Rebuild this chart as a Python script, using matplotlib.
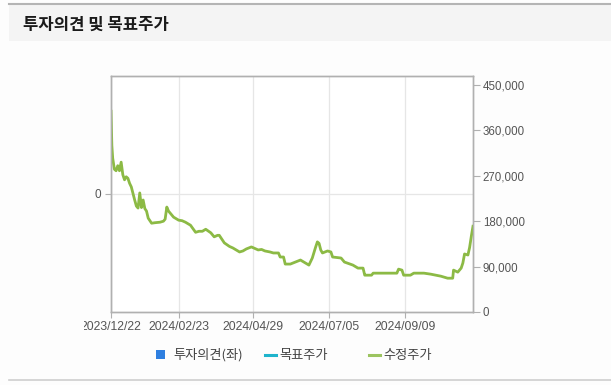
import matplotlib
matplotlib.use("Agg")
import matplotlib.pyplot as plt
from matplotlib.patches import Rectangle
from matplotlib.lines import Line2D
from matplotlib.transforms import Bbox, TransformedBbox, offset_copy
from matplotlib.ticker import FuncFormatter

plt.rcParams['font.family'] = ['Noto Sans CJK KR', 'DejaVu Sans']

# ---- data (trading-day index, adjusted price) ----
day_idx = [0, 0.5, 1, 2, 3, 4, 5, 6, 7, 8, 9, 10, 11, 12, 13, 14, 15, 16, 17, 18,
           19, 20, 21, 22, 24, 26, 29, 31, 32, 33, 34, 35, 37, 40, 42, 44, 47, 50,
           52, 54, 56, 59, 61, 63, 64, 67, 70, 72, 76, 78, 80, 83, 85, 87, 89, 91,
           94, 96, 99, 100, 102, 103, 106, 109, 112, 115, 117, 119, 121, 122, 123,
           124, 125, 128, 130, 131, 136, 138, 143, 146, 149, 150, 151, 154, 155,
           169, 170, 172, 173, 177, 179, 185, 189, 195, 199, 202, 202.5, 205, 207,
           208, 209, 211, 212, 213, 214]
adj_price = [398000, 330000, 305000, 283000, 280000, 290000, 280000, 297000, 272000,
             262000, 268000, 265000, 255000, 248000, 235000, 222000, 210000, 206000,
             236000, 207000, 222000, 205000, 200000, 186000, 176000, 177000, 178000,
             180000, 184000, 208000, 200000, 196000, 188000, 182000, 181000, 178000,
             172000, 158000, 160000, 160000, 164000, 157000, 149000, 152000, 152000,
             137000, 130000, 127000, 119000, 121000, 125000, 129000, 126000, 123000,
             124000, 121000, 119000, 117000, 117000, 109000, 109000, 95000, 95000,
             99000, 103000, 97000, 93000, 107000, 129000, 139000, 136000, 123000,
             117000, 121000, 119000, 109000, 107000, 99000, 93000, 87000, 87000,
             73000, 73000, 73000, 77000, 77000, 85000, 83000, 73000, 73000, 77000,
             77000, 75000, 71000, 67000, 67000, 83000, 79000, 87000, 97000, 115000,
             113000, 128000, 150000, 170000]

tick_idx = [0, 40, 84, 129, 174]
tick_labels = ['2023/12/22', '2024/02/23', '2024/04/29', '2024/07/05', '2024/09/09']
right_ticks = [0, 90000, 180000, 270000, 360000, 450000]
legend_labels = ['투자의견(좌)', '목표주가', '수정주가']

W, H = 611, 385
fig = plt.figure(figsize=(W / 100, H / 100), dpi=100)
fig.patch.set_facecolor('#fdfdfd')

def fx(px):
    return px / W

def fy(py):
    return 1 - py / H

NUMFONT = ['Liberation Sans', 'DejaVu Sans']
DATE_FS = 8.8

# header band
fig.patches.append(Rectangle((fx(9), fy(41)), 1 - fx(9), fy(4) - fy(41),
                             transform=fig.transFigure, facecolor='#f4f4f4',
                             edgecolor='none', zorder=0))
fig.lines.append(Line2D([fx(9), 1], [fy(4), fy(4)], transform=fig.transFigure,
                        color='#b4b4b4', lw=1.5))
fig.text(fx(23), fy(25), '투자의견 및 목표주가', fontsize=12, fontweight='bold',
         color='#1a1a1a', va='center', ha='left')
# bottom separator
fig.lines.append(Line2D([fx(9), 1], [fy(380), fy(380)], transform=fig.transFigure,
                        color='#cfcfcf', lw=1.2))

# axes
left, right, top, bottom = 111, 473, 76, 312
ax = fig.add_axes([fx(left), fy(bottom), fx(right) - fx(left), fy(top) - fy(bottom)])
ax.set_facecolor('white')
ax.set_xlim(0, 214)
ax.set_ylim(-1, 1)
ax.set_yticks([0])
ax.set_yticklabels(['0'])
ax.set_xticks(tick_idx)
# first label is drawn separately so it can be clipped like in the reference
ax.set_xticklabels([''] + tick_labels[1:])
ax.grid(True, color='#e6e6e6', lw=0.9)
ax.set_axisbelow(True)
for s in ax.spines.values():
    s.set_color('#b0b0b0')
    s.set_linewidth(1.0)
ax.tick_params(axis='x', length=4, color='#b0b0b0', labelsize=DATE_FS, labelcolor='#555555', pad=2.5)
ax.tick_params(axis='y', length=4, color='#b0b0b0', labelsize=8.5, labelcolor='#555555', pad=3)
for lbl in ax.get_xticklabels() + ax.get_yticklabels():
    lbl.set_fontfamily(NUMFONT)

first = fig.text(0, 0, tick_labels[0],
                 transform=offset_copy(ax.get_xaxis_transform(), fig=fig, y=-6.5, units='points'),
                 ha='center', va='top', fontsize=DATE_FS, color='#555555', fontfamily=NUMFONT)
first.set_x(tick_idx[0])
first.set_clip_box(TransformedBbox(Bbox([[fx(84), 0], [1, 1]]), fig.transFigure))
first.set_clip_on(True)

ax2 = ax.twinx()
ax2.set_ylim(0, 467800)
ax2.set_yticks(right_ticks)
ax2.yaxis.set_major_formatter(FuncFormatter(lambda v, p: f'{int(v):,}'))
ax2.tick_params(axis='y', length=5, color='#b0b0b0', labelsize=8.3, labelcolor='#555555', pad=2)
for lbl in ax2.get_yticklabels():
    lbl.set_fontfamily(NUMFONT)
for s in ax2.spines.values():
    s.set_color('#b0b0b0')
    s.set_linewidth(1.0)
ax2.plot(day_idx, adj_price, color='#8cba45', lw=2.0, solid_joinstyle='round')

# legend (manual)
fig.patches.append(Rectangle((fx(156), fy(359)), fx(9), fy(350) - fy(359),
                             transform=fig.transFigure, facecolor='#2f7fe0',
                             edgecolor='none'))
fig.text(fx(173), fy(355), legend_labels[0], fontsize=9.5, color='#444444', va='center')
fig.lines.append(Line2D([fx(265), fx(276)], [fy(355), fy(355)], transform=fig.transFigure,
                        color='#1fb4cc', lw=2.2))
fig.text(fx(279), fy(355), legend_labels[1], fontsize=9.5, color='#444444', va='center')
fig.lines.append(Line2D([fx(369), fx(380)], [fy(355), fy(355)], transform=fig.transFigure,
                        color='#9cc460', lw=2.2))
fig.text(fx(383), fy(355), legend_labels[2], fontsize=9.5, color='#444444', va='center')

fig.savefig('out.png', dpi=100, facecolor=fig.get_facecolor())
